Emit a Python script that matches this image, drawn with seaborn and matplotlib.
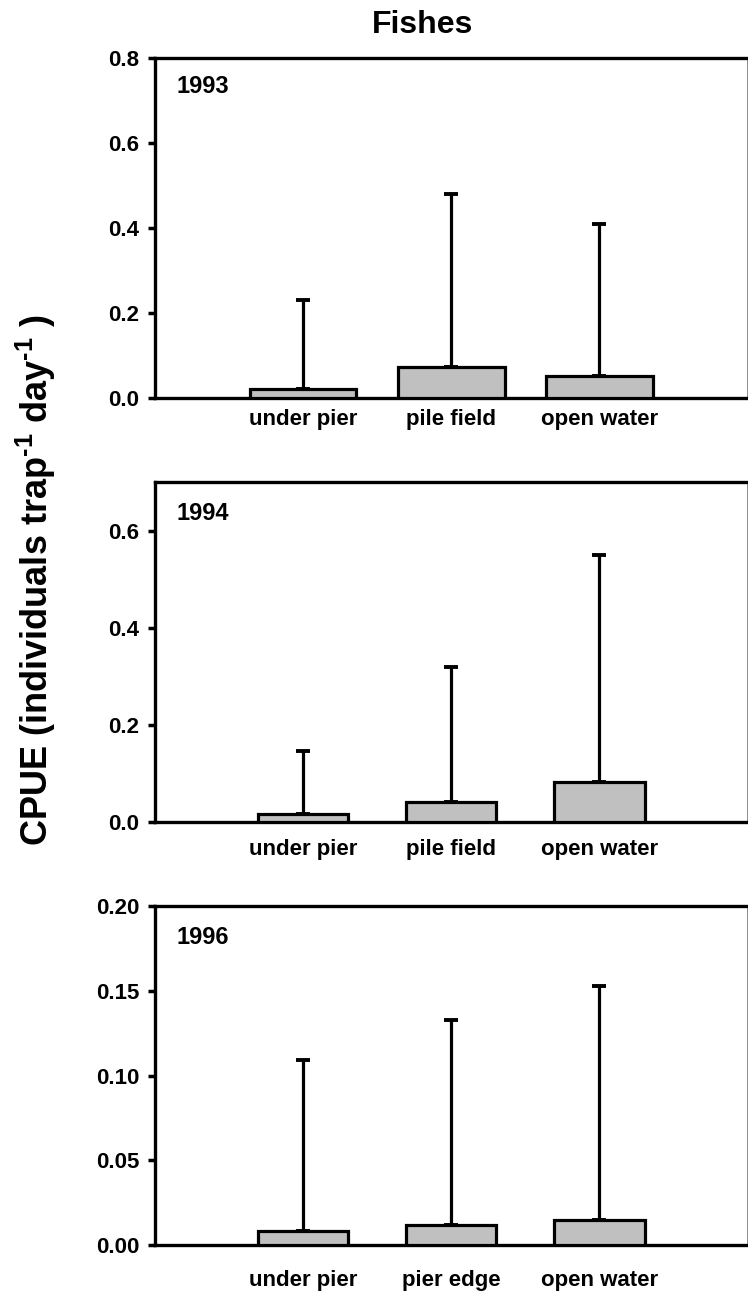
import matplotlib
matplotlib.use("Agg")
import matplotlib.pyplot as plt
import seaborn as sns
import pandas as pd
import numpy as np

# ---- data ----
years = ["1993", "1994", "1996"]
cats_1993 = ["under pier", "pile field", "open water"]
cats_1994 = ["under pier", "pile field", "open water"]
cats_1996 = ["under pier", "pier edge", "open water"]
means_1993 = [0.021, 0.072, 0.052]
upper_1993 = [0.23, 0.48, 0.41]
means_1994 = [0.016, 0.041, 0.082]
upper_1994 = [0.146, 0.32, 0.55]
means_1996 = [0.008, 0.012, 0.015]
upper_1996 = [0.109, 0.133, 0.153]
yticks_1993 = [0.0, 0.2, 0.4, 0.6, 0.8]
yticks_1994 = [0.0, 0.2, 0.4, 0.6]
yticks_1996 = [0.00, 0.05, 0.10, 0.15, 0.20]
ylim_top = [0.8, 0.7, 0.2]
tick_fmt = ["{:.1f}", "{:.1f}", "{:.2f}"]

sns.set_theme(style="white", rc={
    "text.color": "black", "axes.labelcolor": "black",
    "xtick.color": "black", "ytick.color": "black",
    "axes.edgecolor": "black",
})
plt.rcParams["font.family"] = ["Liberation Sans", "DejaVu Sans"]
plt.rcParams["font.weight"] = "bold"
plt.rcParams["mathtext.fontset"] = "custom"
plt.rcParams["mathtext.rm"] = "Liberation Sans:bold"
plt.rcParams["mathtext.bf"] = "Liberation Sans:bold"
plt.rcParams["mathtext.it"] = "Liberation Sans:bold"
plt.rcParams["mathtext.default"] = "bf"

fig = plt.figure(figsize=(7.48, 12.91), dpi=100)
L = 155 / 748
W = 747.5 / 748 - L
positions = [
    [L, 1 - 398 / 1291, W, 340 / 1291],
    [L, 1 - 822 / 1291, W, 340 / 1291],
    [L, 1 - 1245 / 1291, W, 339 / 1291],
]
panels = [
    (cats_1993, means_1993, upper_1993, yticks_1993),
    (cats_1994, means_1994, upper_1994, yticks_1994),
    (cats_1996, means_1996, upper_1996, yticks_1996),
]
widths = [0.72, 0.61, 0.61]
xpads = [8, 12.5, 18]
year_y = [0.915, 0.906, 0.907]

for i, (cats, means, upper, yt) in enumerate(panels):
    ax = fig.add_axes(positions[i])
    df = pd.DataFrame({"site": cats, "cpue": means})
    sns.barplot(data=df, x="site", y="cpue", ax=ax, color="#c0c0c0",
                edgecolor="black", linewidth=2.3, width=widths[i],
                saturation=1, errorbar=None, zorder=3)
    xs = np.arange(len(cats))
    err = np.array(upper) - np.array(means)
    ax.errorbar(xs, means, yerr=[np.zeros(len(cats)), err], fmt="none",
                ecolor="black", elinewidth=2.3, capsize=5, capthick=2.8, zorder=2)
    ax.set_xlim(-1, 3)
    ax.set_ylim(0, ylim_top[i])
    ax.set_yticks(yt)
    ax.set_yticklabels([tick_fmt[i].format(v) for v in yt])
    ax.set_xlabel("")
    ax.set_ylabel("")
    ax.tick_params(axis="y", direction="out", length=5, width=2.5, pad=6.5,
                   labelsize=16, left=True, color="black")
    ax.tick_params(axis="x", length=0, pad=xpads[i], labelsize=16)
    for lab in ax.get_xticklabels() + ax.get_yticklabels():
        lab.set_fontweight("bold")
        lab.set_color("black")
    for s in ax.spines.values():
        s.set_linewidth(2.4)
        s.set_color("black")
    ax.spines["right"].set_linewidth(1.2)
    ax.spines["right"].set_color("#7a7a7a")
    ax.text(0.037, year_y[i], years[i], transform=ax.transAxes, fontsize=17,
            fontweight="bold", ha="left", va="center", color="black")

fig.text(423 / 748, 1 - 33 / 1291, "Fishes", ha="center", va="baseline",
         fontsize=23, fontweight="bold", color="black")
fig.text(36 / 748, 1 - 580 / 1291,
         r"CPUE (individuals trap$^{\text{-1}}$ day$^{\text{-1}}$ )",
         rotation=90, ha="center", va="center", fontsize=26,
         fontweight="bold", color="black")

fig.savefig("out.png", dpi=100)
